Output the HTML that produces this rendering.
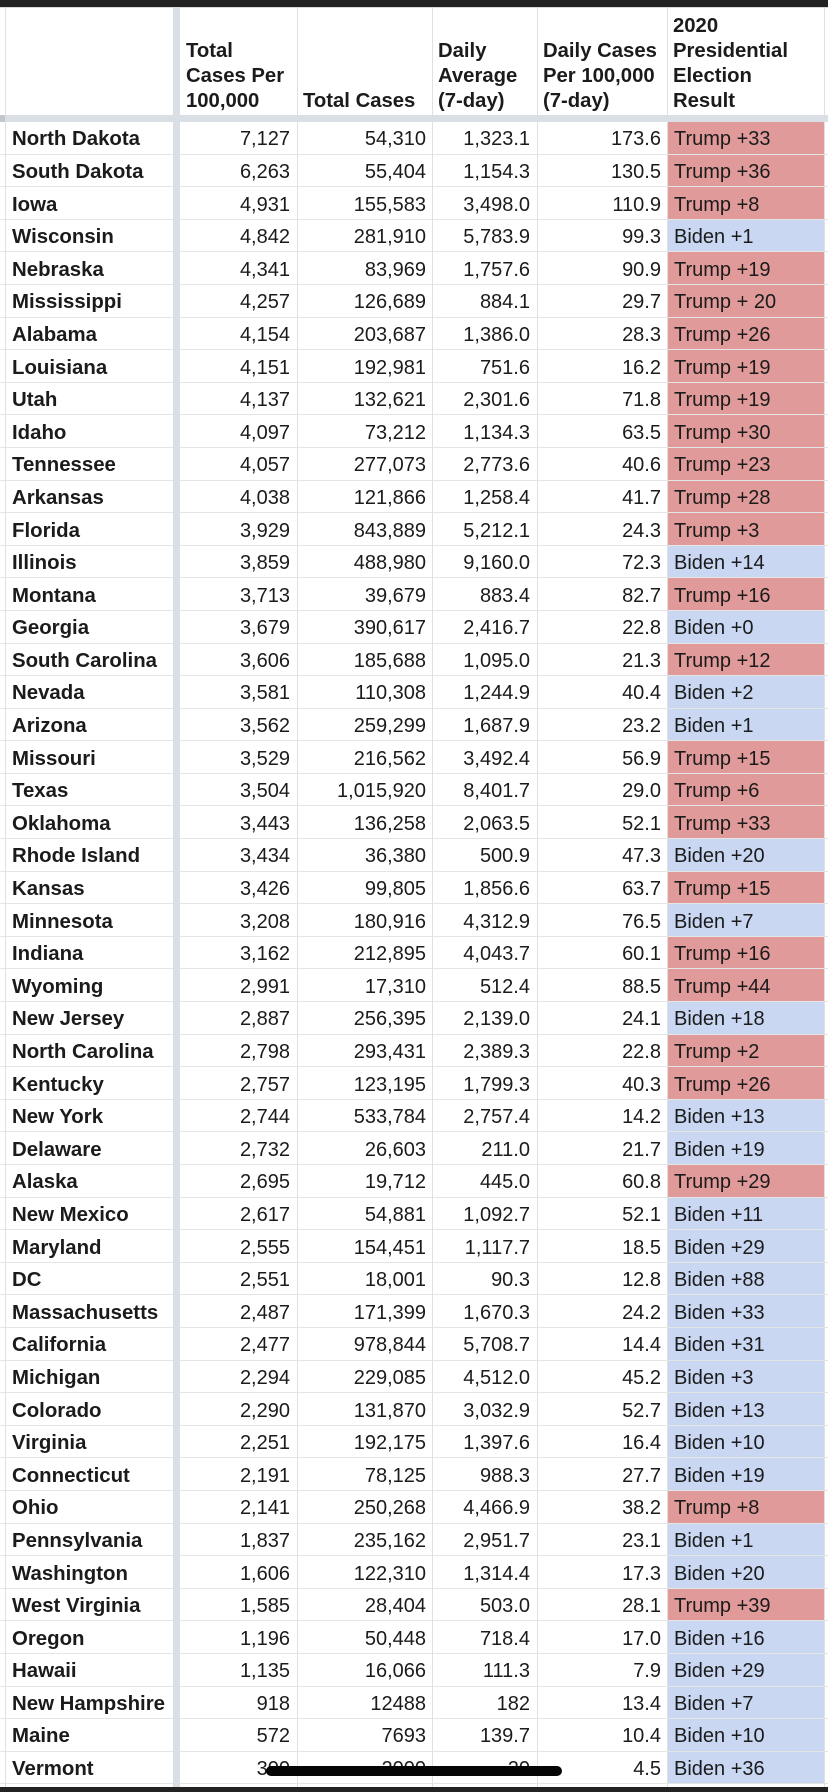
<!DOCTYPE html>
<html>
<head>
<meta charset="utf-8">
<style>
*{margin:0;padding:0;box-sizing:border-box;}
html,body{width:828px;height:1792px;overflow:hidden;background:#fff;}
body{position:relative;font-family:"Liberation Sans",Arial,sans-serif;color:#1b1b1b;}
#top{position:absolute;left:0;top:0;width:828px;height:7px;background:#222;}
#topl{position:absolute;left:0;top:7px;width:828px;height:1px;background:#d8d8d8;}
#bot{position:absolute;left:0;top:1787px;width:828px;height:5px;background:#222;z-index:5;}
.h{position:absolute;font-weight:bold;font-size:20.3px;line-height:25px;white-space:nowrap;}
#band{position:absolute;left:0;top:115px;width:828px;height:7px;background:#dadfe6;z-index:3;}
#bandl{position:absolute;left:0;top:115px;width:5px;height:7px;background:#c4c6c9;z-index:4;}
.vl{position:absolute;top:8px;width:1px;height:1779px;background:#e0e0e0;z-index:2;}
#thick{position:absolute;left:173px;top:8px;width:7px;height:1779px;background:#dadfe6;z-index:3;}
#rows{position:absolute;left:0;top:122px;width:828px;}
.r{display:flex;height:32.6px;border-bottom:1px solid rgba(0,0,0,0.1);font-size:20px;white-space:nowrap;}
.r span{display:block;height:100%;line-height:28px;padding-top:3.4px;}
.g{width:6px;}
.s{width:167px;padding-left:6px;font-weight:bold;font-size:20.4px;}
.k{width:7px;}
.a{width:118px;text-align:right;padding-right:8px;}
.b{width:135px;text-align:right;padding-right:7px;}
.c{width:105px;text-align:right;padding-right:8px;}
.d{width:130px;text-align:right;padding-right:7px;}
.e{width:157px;padding-left:6px;}
.t .e{background:#e09a9a;}
.w .e{background:#c9d7f3;}
#home{position:absolute;left:266px;top:1766px;width:296px;height:10px;border-radius:5px;background:#050505;z-index:6;}
</style>
</head>
<body>
<div id="top"></div>
<div id="topl"></div>

<div class="h" style="left:186px;top:38.6px;">Total<br>Cases Per<br>100,000</div>
<div class="h" style="left:303px;top:88.6px;">Total Cases</div>
<div class="h" style="left:438px;top:38.6px;">Daily<br>Average<br>(7-day)</div>
<div class="h" style="left:543px;top:38.6px;">Daily Cases<br>Per 100,000<br>(7-day)</div>
<div class="h" style="left:673px;top:13.6px;">2020<br>Presidential<br>Election<br>Result</div>

<div class="vl" style="left:5px"></div>
<div class="vl" style="left:297px"></div>
<div class="vl" style="left:432px"></div>
<div class="vl" style="left:537px"></div>
<div class="vl" style="left:667px"></div>
<div class="vl" style="left:824px"></div>
<div id="thick"></div>
<div id="band"></div>
<div id="bandl"></div>

<div id="rows">
<div class="r t"><span class="g"></span><span class="s">North Dakota</span><span class="k"></span><span class="a">7,127</span><span class="b">54,310</span><span class="c">1,323.1</span><span class="d">173.6</span><span class="e">Trump +33</span></div>
<div class="r t"><span class="g"></span><span class="s">South Dakota</span><span class="k"></span><span class="a">6,263</span><span class="b">55,404</span><span class="c">1,154.3</span><span class="d">130.5</span><span class="e">Trump +36</span></div>
<div class="r t"><span class="g"></span><span class="s">Iowa</span><span class="k"></span><span class="a">4,931</span><span class="b">155,583</span><span class="c">3,498.0</span><span class="d">110.9</span><span class="e">Trump +8</span></div>
<div class="r w"><span class="g"></span><span class="s">Wisconsin</span><span class="k"></span><span class="a">4,842</span><span class="b">281,910</span><span class="c">5,783.9</span><span class="d">99.3</span><span class="e">Biden +1</span></div>
<div class="r t"><span class="g"></span><span class="s">Nebraska</span><span class="k"></span><span class="a">4,341</span><span class="b">83,969</span><span class="c">1,757.6</span><span class="d">90.9</span><span class="e">Trump +19</span></div>
<div class="r t"><span class="g"></span><span class="s">Mississippi</span><span class="k"></span><span class="a">4,257</span><span class="b">126,689</span><span class="c">884.1</span><span class="d">29.7</span><span class="e">Trump + 20</span></div>
<div class="r t"><span class="g"></span><span class="s">Alabama</span><span class="k"></span><span class="a">4,154</span><span class="b">203,687</span><span class="c">1,386.0</span><span class="d">28.3</span><span class="e">Trump +26</span></div>
<div class="r t"><span class="g"></span><span class="s">Louisiana</span><span class="k"></span><span class="a">4,151</span><span class="b">192,981</span><span class="c">751.6</span><span class="d">16.2</span><span class="e">Trump +19</span></div>
<div class="r t"><span class="g"></span><span class="s">Utah</span><span class="k"></span><span class="a">4,137</span><span class="b">132,621</span><span class="c">2,301.6</span><span class="d">71.8</span><span class="e">Trump +19</span></div>
<div class="r t"><span class="g"></span><span class="s">Idaho</span><span class="k"></span><span class="a">4,097</span><span class="b">73,212</span><span class="c">1,134.3</span><span class="d">63.5</span><span class="e">Trump +30</span></div>
<div class="r t"><span class="g"></span><span class="s">Tennessee</span><span class="k"></span><span class="a">4,057</span><span class="b">277,073</span><span class="c">2,773.6</span><span class="d">40.6</span><span class="e">Trump +23</span></div>
<div class="r t"><span class="g"></span><span class="s">Arkansas</span><span class="k"></span><span class="a">4,038</span><span class="b">121,866</span><span class="c">1,258.4</span><span class="d">41.7</span><span class="e">Trump +28</span></div>
<div class="r t"><span class="g"></span><span class="s">Florida</span><span class="k"></span><span class="a">3,929</span><span class="b">843,889</span><span class="c">5,212.1</span><span class="d">24.3</span><span class="e">Trump +3</span></div>
<div class="r w"><span class="g"></span><span class="s">Illinois</span><span class="k"></span><span class="a">3,859</span><span class="b">488,980</span><span class="c">9,160.0</span><span class="d">72.3</span><span class="e">Biden +14</span></div>
<div class="r t"><span class="g"></span><span class="s">Montana</span><span class="k"></span><span class="a">3,713</span><span class="b">39,679</span><span class="c">883.4</span><span class="d">82.7</span><span class="e">Trump +16</span></div>
<div class="r w"><span class="g"></span><span class="s">Georgia</span><span class="k"></span><span class="a">3,679</span><span class="b">390,617</span><span class="c">2,416.7</span><span class="d">22.8</span><span class="e">Biden +0</span></div>
<div class="r t"><span class="g"></span><span class="s">South Carolina</span><span class="k"></span><span class="a">3,606</span><span class="b">185,688</span><span class="c">1,095.0</span><span class="d">21.3</span><span class="e">Trump +12</span></div>
<div class="r w"><span class="g"></span><span class="s">Nevada</span><span class="k"></span><span class="a">3,581</span><span class="b">110,308</span><span class="c">1,244.9</span><span class="d">40.4</span><span class="e">Biden +2</span></div>
<div class="r w"><span class="g"></span><span class="s">Arizona</span><span class="k"></span><span class="a">3,562</span><span class="b">259,299</span><span class="c">1,687.9</span><span class="d">23.2</span><span class="e">Biden +1</span></div>
<div class="r t"><span class="g"></span><span class="s">Missouri</span><span class="k"></span><span class="a">3,529</span><span class="b">216,562</span><span class="c">3,492.4</span><span class="d">56.9</span><span class="e">Trump +15</span></div>
<div class="r t"><span class="g"></span><span class="s">Texas</span><span class="k"></span><span class="a">3,504</span><span class="b">1,015,920</span><span class="c">8,401.7</span><span class="d">29.0</span><span class="e">Trump +6</span></div>
<div class="r t"><span class="g"></span><span class="s">Oklahoma</span><span class="k"></span><span class="a">3,443</span><span class="b">136,258</span><span class="c">2,063.5</span><span class="d">52.1</span><span class="e">Trump +33</span></div>
<div class="r w"><span class="g"></span><span class="s">Rhode Island</span><span class="k"></span><span class="a">3,434</span><span class="b">36,380</span><span class="c">500.9</span><span class="d">47.3</span><span class="e">Biden +20</span></div>
<div class="r t"><span class="g"></span><span class="s">Kansas</span><span class="k"></span><span class="a">3,426</span><span class="b">99,805</span><span class="c">1,856.6</span><span class="d">63.7</span><span class="e">Trump +15</span></div>
<div class="r w"><span class="g"></span><span class="s">Minnesota</span><span class="k"></span><span class="a">3,208</span><span class="b">180,916</span><span class="c">4,312.9</span><span class="d">76.5</span><span class="e">Biden +7</span></div>
<div class="r t"><span class="g"></span><span class="s">Indiana</span><span class="k"></span><span class="a">3,162</span><span class="b">212,895</span><span class="c">4,043.7</span><span class="d">60.1</span><span class="e">Trump +16</span></div>
<div class="r t"><span class="g"></span><span class="s">Wyoming</span><span class="k"></span><span class="a">2,991</span><span class="b">17,310</span><span class="c">512.4</span><span class="d">88.5</span><span class="e">Trump +44</span></div>
<div class="r w"><span class="g"></span><span class="s">New Jersey</span><span class="k"></span><span class="a">2,887</span><span class="b">256,395</span><span class="c">2,139.0</span><span class="d">24.1</span><span class="e">Biden +18</span></div>
<div class="r t"><span class="g"></span><span class="s">North Carolina</span><span class="k"></span><span class="a">2,798</span><span class="b">293,431</span><span class="c">2,389.3</span><span class="d">22.8</span><span class="e">Trump +2</span></div>
<div class="r t"><span class="g"></span><span class="s">Kentucky</span><span class="k"></span><span class="a">2,757</span><span class="b">123,195</span><span class="c">1,799.3</span><span class="d">40.3</span><span class="e">Trump +26</span></div>
<div class="r w"><span class="g"></span><span class="s">New York</span><span class="k"></span><span class="a">2,744</span><span class="b">533,784</span><span class="c">2,757.4</span><span class="d">14.2</span><span class="e">Biden +13</span></div>
<div class="r w"><span class="g"></span><span class="s">Delaware</span><span class="k"></span><span class="a">2,732</span><span class="b">26,603</span><span class="c">211.0</span><span class="d">21.7</span><span class="e">Biden +19</span></div>
<div class="r t"><span class="g"></span><span class="s">Alaska</span><span class="k"></span><span class="a">2,695</span><span class="b">19,712</span><span class="c">445.0</span><span class="d">60.8</span><span class="e">Trump +29</span></div>
<div class="r w"><span class="g"></span><span class="s">New Mexico</span><span class="k"></span><span class="a">2,617</span><span class="b">54,881</span><span class="c">1,092.7</span><span class="d">52.1</span><span class="e">Biden +11</span></div>
<div class="r w"><span class="g"></span><span class="s">Maryland</span><span class="k"></span><span class="a">2,555</span><span class="b">154,451</span><span class="c">1,117.7</span><span class="d">18.5</span><span class="e">Biden +29</span></div>
<div class="r w"><span class="g"></span><span class="s">DC</span><span class="k"></span><span class="a">2,551</span><span class="b">18,001</span><span class="c">90.3</span><span class="d">12.8</span><span class="e">Biden +88</span></div>
<div class="r w"><span class="g"></span><span class="s">Massachusetts</span><span class="k"></span><span class="a">2,487</span><span class="b">171,399</span><span class="c">1,670.3</span><span class="d">24.2</span><span class="e">Biden +33</span></div>
<div class="r w"><span class="g"></span><span class="s">California</span><span class="k"></span><span class="a">2,477</span><span class="b">978,844</span><span class="c">5,708.7</span><span class="d">14.4</span><span class="e">Biden +31</span></div>
<div class="r w"><span class="g"></span><span class="s">Michigan</span><span class="k"></span><span class="a">2,294</span><span class="b">229,085</span><span class="c">4,512.0</span><span class="d">45.2</span><span class="e">Biden +3</span></div>
<div class="r w"><span class="g"></span><span class="s">Colorado</span><span class="k"></span><span class="a">2,290</span><span class="b">131,870</span><span class="c">3,032.9</span><span class="d">52.7</span><span class="e">Biden +13</span></div>
<div class="r w"><span class="g"></span><span class="s">Virginia</span><span class="k"></span><span class="a">2,251</span><span class="b">192,175</span><span class="c">1,397.6</span><span class="d">16.4</span><span class="e">Biden +10</span></div>
<div class="r w"><span class="g"></span><span class="s">Connecticut</span><span class="k"></span><span class="a">2,191</span><span class="b">78,125</span><span class="c">988.3</span><span class="d">27.7</span><span class="e">Biden +19</span></div>
<div class="r t"><span class="g"></span><span class="s">Ohio</span><span class="k"></span><span class="a">2,141</span><span class="b">250,268</span><span class="c">4,466.9</span><span class="d">38.2</span><span class="e">Trump +8</span></div>
<div class="r w"><span class="g"></span><span class="s">Pennsylvania</span><span class="k"></span><span class="a">1,837</span><span class="b">235,162</span><span class="c">2,951.7</span><span class="d">23.1</span><span class="e">Biden +1</span></div>
<div class="r w"><span class="g"></span><span class="s">Washington</span><span class="k"></span><span class="a">1,606</span><span class="b">122,310</span><span class="c">1,314.4</span><span class="d">17.3</span><span class="e">Biden +20</span></div>
<div class="r t"><span class="g"></span><span class="s">West Virginia</span><span class="k"></span><span class="a">1,585</span><span class="b">28,404</span><span class="c">503.0</span><span class="d">28.1</span><span class="e">Trump +39</span></div>
<div class="r w"><span class="g"></span><span class="s">Oregon</span><span class="k"></span><span class="a">1,196</span><span class="b">50,448</span><span class="c">718.4</span><span class="d">17.0</span><span class="e">Biden +16</span></div>
<div class="r w"><span class="g"></span><span class="s">Hawaii</span><span class="k"></span><span class="a">1,135</span><span class="b">16,066</span><span class="c">111.3</span><span class="d">7.9</span><span class="e">Biden +29</span></div>
<div class="r w"><span class="g"></span><span class="s">New Hampshire</span><span class="k"></span><span class="a">918</span><span class="b">12488</span><span class="c">182</span><span class="d">13.4</span><span class="e">Biden +7</span></div>
<div class="r w"><span class="g"></span><span class="s">Maine</span><span class="k"></span><span class="a">572</span><span class="b">7693</span><span class="c">139.7</span><span class="d">10.4</span><span class="e">Biden +10</span></div>
<div class="r w"><span class="g"></span><span class="s">Vermont</span><span class="k"></span><span class="a">300</span><span class="b">2000</span><span class="c">20</span><span class="d">4.5</span><span class="e">Biden +36</span></div>
</div>

<div id="home"></div>
<div id="bot"></div>
</body>
</html>
